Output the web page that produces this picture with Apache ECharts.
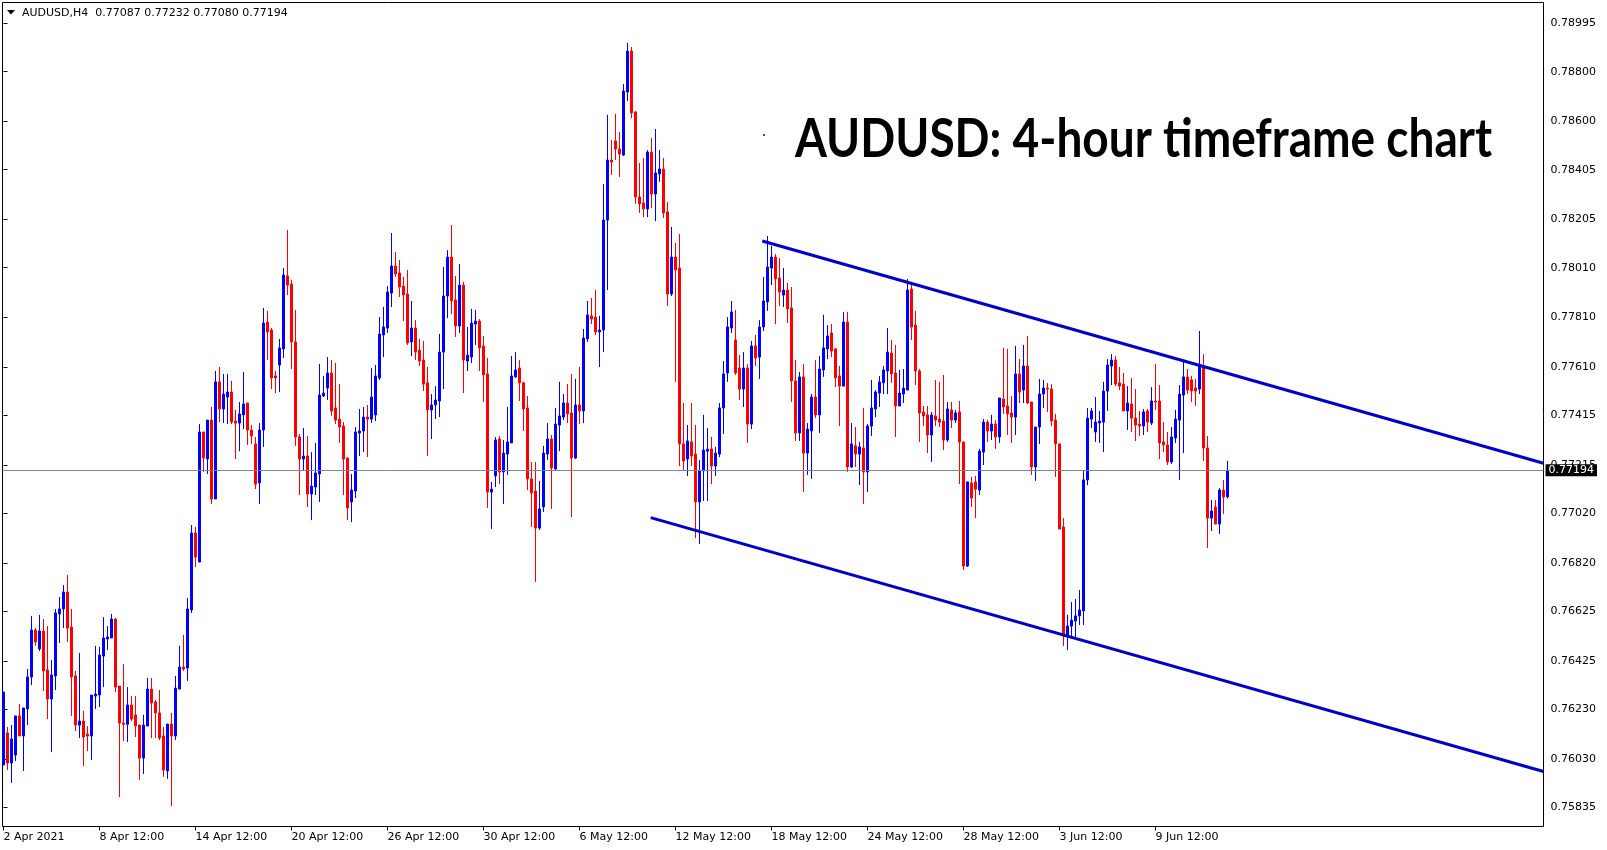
<!DOCTYPE html>
<html><head><meta charset="utf-8">
<script src="https://cdn.jsdelivr.net/npm/echarts@6/dist/echarts.min.js"></script>
<style>html,body{margin:0;padding:0;background:#fff}#c{width:1607px;height:850px}</style>
</head><body><div id="c"></div>
<script>
// ---- data (AUDUSD H4, one entry per bar) ----
const barOpen = [
0.76006,0.76135,0.76014,0.76046,0.76204,0.76123,0.76232,0.76361,0.76550,0.76474,
0.76546,0.76389,0.76272,0.76365,0.76615,0.76635,0.76703,0.76562,0.76365,0.76167,
0.76183,0.76131,0.76123,0.76284,0.76288,0.76445,0.76514,0.76518,0.76594,0.76324,
0.76175,0.76170,0.76248,0.76208,0.76167,0.76034,0.76163,0.76312,0.76260,0.76216,
0.76123,0.75982,0.76171,0.76123,0.76312,0.76401,0.76397,0.76631,0.76941,0.76824,
0.77348,0.77239,0.77396,0.77078,0.77550,0.77441,0.77489,0.77509,0.77392,0.77384,
0.77417,0.77465,0.77356,0.77300,0.77143,0.77356,0.77791,0.77759,0.77574,0.77618,
0.77683,0.77977,0.77944,0.77711,0.77328,0.77239,0.77251,0.77098,0.77126,0.77179,
0.77493,0.77525,0.77586,0.77445,0.77400,0.77372,0.77243,0.77066,0.77110,0.77344,
0.77352,0.77408,0.77400,0.77417,0.77566,0.77739,0.77767,0.77908,0.78017,0.77989,
0.77936,0.77904,0.77711,0.77767,0.77678,0.77638,0.77546,0.77437,0.77457,0.77473,
0.77670,0.77896,0.78053,0.77880,0.77775,0.77940,0.77634,0.77650,0.77783,0.77795,
0.77695,0.77582,0.77106,0.77171,0.77320,0.77187,0.77259,0.77304,0.77570,0.77606,
0.77546,0.77445,0.77159,0.77110,0.76961,0.77046,0.77259,0.77320,0.77199,0.77376,
0.77408,0.77465,0.77425,0.77243,0.77457,0.77433,0.77723,0.77816,0.77811,0.77751,
0.77759,0.78202,0.78444,0.78521,0.78489,0.78464,0.78718,0.78883,0.78638,0.78295,
0.78271,0.78247,0.78476,0.78307,0.78388,0.78408,0.78235,0.77904,0.78053,0.78009,
0.77300,0.77239,0.77308,0.77259,0.77066,0.77191,0.77271,0.77280,0.77211,0.77259,
0.77445,0.77586,0.77767,0.77719,0.77606,0.77521,0.77606,0.77380,0.77695,0.77650,
0.77771,0.77872,0.78009,0.78053,0.77969,0.77900,0.77920,0.77848,0.77554,0.77344,
0.77570,0.77263,0.77352,0.77489,0.77417,0.77598,0.77683,0.77747,0.77683,0.77574,
0.77533,0.77791,0.77207,0.77292,0.77259,0.77284,0.77187,0.77372,0.77441,0.77505,
0.77546,0.77594,0.77666,0.77586,0.77453,0.77501,0.77517,0.77924,0.77779,0.77594,
0.77429,0.77417,0.77336,0.77413,0.77400,0.77392,0.77316,0.77437,0.77396,0.77429,
0.77308,0.76808,0.77143,0.77147,0.77114,0.77267,0.77388,0.77352,0.77380,0.77328,
0.77481,0.77453,0.77425,0.77408,0.77582,0.77517,0.77614,0.77469,0.77207,0.77368,
0.77501,0.77525,0.77521,0.77396,0.77300,0.76965,0.76526,0.76566,0.76586,0.76607,
0.76627,0.77155,0.77400,0.77348,0.77384,0.77388,0.77513,0.77614,0.77638,0.77546,
0.77541,0.77433,0.77461,0.77404,0.77380,0.77372,0.77433,0.77384,0.77473,0.77473,
0.77308,0.77296,0.77227,0.77324,0.77396,0.77497,0.77570,0.77558,0.77525,0.77521,
0.77610,0.77284,0.77001,0.77046,0.76977,0.77114,0.77087];
const barHigh = [
0.76300,0.76159,0.76167,0.76204,0.76252,0.76236,0.76393,0.76607,0.76558,0.76611,
0.76594,0.76566,0.76429,0.76635,0.76683,0.76731,0.76772,0.76635,0.76385,0.76457,
0.76224,0.76163,0.76288,0.76486,0.76482,0.76602,0.76566,0.76615,0.76598,0.76324,
0.76413,0.76320,0.76284,0.76284,0.76167,0.76208,0.76357,0.76357,0.76268,0.76308,
0.76159,0.76171,0.76216,0.76365,0.76486,0.76530,0.76679,0.76973,0.76965,0.77380,
0.77348,0.77396,0.77449,0.77594,0.77610,0.77582,0.77582,0.77554,0.77437,0.77469,
0.77590,0.77465,0.77376,0.77328,0.77384,0.77848,0.77836,0.77767,0.77594,0.77723,
0.78009,0.78162,0.77961,0.77840,0.77340,0.77364,0.77332,0.77267,0.77304,0.77622,
0.77574,0.77650,0.77638,0.77626,0.77541,0.77388,0.77247,0.77179,0.77368,0.77441,
0.77449,0.77457,0.77606,0.77618,0.77811,0.77852,0.77936,0.78150,0.78073,0.78041,
0.77973,0.78001,0.77876,0.77799,0.77723,0.77715,0.77610,0.77501,0.77533,0.77743,
0.78013,0.78081,0.78182,0.77977,0.78025,0.77953,0.77771,0.77844,0.77840,0.77803,
0.77735,0.77646,0.77147,0.77328,0.77332,0.77316,0.77449,0.77654,0.77670,0.77638,
0.77550,0.77493,0.77227,0.77227,0.77151,0.77292,0.77384,0.77336,0.77445,0.77550,
0.77501,0.77541,0.77582,0.77562,0.77610,0.77763,0.77876,0.77888,0.77920,0.77816,
0.78347,0.78626,0.78525,0.78630,0.78557,0.78750,0.78916,0.78900,0.78642,0.78432,
0.78452,0.78484,0.78533,0.78569,0.78484,0.78452,0.78275,0.78174,0.78110,0.78146,
0.77465,0.77376,0.77465,0.77376,0.77235,0.77417,0.77364,0.77328,0.77288,0.77465,
0.77634,0.77811,0.77876,0.77840,0.77658,0.77670,0.77622,0.77715,0.77739,0.77799,
0.77973,0.78138,0.78098,0.78065,0.78049,0.78009,0.77949,0.77932,0.77638,0.77590,
0.77622,0.77384,0.77501,0.77638,0.77654,0.77820,0.77779,0.77783,0.77687,0.77614,
0.77832,0.77832,0.77384,0.77368,0.77308,0.77445,0.77380,0.77558,0.77517,0.77574,
0.77614,0.77767,0.77719,0.77699,0.77598,0.77602,0.77965,0.77953,0.77836,0.77602,
0.77453,0.77453,0.77429,0.77558,0.77550,0.77578,0.77469,0.77469,0.77437,0.77473,
0.77308,0.77147,0.77167,0.77171,0.77280,0.77400,0.77396,0.77417,0.77396,0.77485,
0.77687,0.77683,0.77493,0.77695,0.77642,0.77699,0.77735,0.77469,0.77368,0.77562,
0.77558,0.77546,0.77541,0.77421,0.77300,0.77001,0.76611,0.76663,0.76675,0.76711,
0.77191,0.77445,0.77445,0.77489,0.77433,0.77550,0.77642,0.77662,0.77654,0.77610,
0.77586,0.77533,0.77566,0.77521,0.77433,0.77441,0.77441,0.77529,0.77622,0.77537,
0.77388,0.77348,0.77368,0.77437,0.77537,0.77630,0.77602,0.77574,0.77562,0.77755,
0.77662,0.77332,0.77074,0.77074,0.77122,0.77155,0.77232];
const barLow = [
0.76006,0.75986,0.75934,0.76022,0.76123,0.75982,0.76167,0.76328,0.76486,0.76465,
0.76304,0.76191,0.76058,0.76308,0.76498,0.76558,0.76502,0.76204,0.76143,0.76115,
0.76002,0.76062,0.76026,0.76232,0.76240,0.76320,0.76469,0.76518,0.76300,0.75877,
0.76103,0.76099,0.76183,0.76119,0.75946,0.75970,0.76163,0.76115,0.76115,0.76107,
0.75958,0.75950,0.75841,0.76107,0.76312,0.76385,0.76345,0.76619,0.76804,0.76824,
0.77187,0.77179,0.77058,0.77078,0.77388,0.77384,0.77380,0.77380,0.77239,0.77271,
0.77360,0.77296,0.77300,0.77118,0.77058,0.77288,0.77638,0.77521,0.77505,0.77509,
0.77646,0.77900,0.77602,0.77292,0.77094,0.77195,0.77046,0.76993,0.77094,0.77066,
0.77489,0.77477,0.77413,0.77380,0.77304,0.77094,0.76993,0.76985,0.77082,0.77251,
0.77267,0.77247,0.77384,0.77392,0.77558,0.77650,0.77747,0.77852,0.77973,0.77892,
0.77795,0.77699,0.77654,0.77638,0.77614,0.77513,0.77251,0.77320,0.77400,0.77408,
0.77521,0.77807,0.77824,0.77731,0.77747,0.77505,0.77594,0.77626,0.77699,0.77594,
0.77469,0.77042,0.76957,0.77126,0.77138,0.77058,0.77175,0.77304,0.77566,0.77473,
0.77352,0.77114,0.76965,0.76744,0.76953,0.77026,0.77235,0.77038,0.77191,0.77271,
0.77396,0.77384,0.77005,0.77239,0.77380,0.77384,0.77711,0.77783,0.77739,0.77610,
0.77670,0.77920,0.78384,0.78444,0.78376,0.78460,0.78682,0.78613,0.78267,0.78231,
0.78214,0.78214,0.78251,0.78198,0.78356,0.78210,0.77856,0.77896,0.77550,0.77211,
0.77191,0.77171,0.77211,0.76921,0.76897,0.77070,0.77070,0.77138,0.77171,0.77247,
0.77340,0.77550,0.77747,0.77578,0.77477,0.77449,0.77304,0.77360,0.77614,0.77562,
0.77755,0.77836,0.77940,0.77783,0.77856,0.77852,0.77787,0.77469,0.77312,0.77312,
0.77106,0.77175,0.77159,0.77404,0.77344,0.77570,0.77642,0.77650,0.77529,0.77372,
0.77533,0.77187,0.77203,0.77207,0.77134,0.77058,0.77106,0.77332,0.77408,0.77449,
0.77501,0.77501,0.77546,0.77328,0.77453,0.77465,0.77517,0.77719,0.77537,0.77308,
0.77372,0.77263,0.77227,0.77372,0.77368,0.77275,0.77308,0.77364,0.77384,0.77138,
0.76792,0.76804,0.77046,0.77001,0.77094,0.77215,0.77308,0.77316,0.77280,0.77304,
0.77421,0.77336,0.77304,0.77336,0.77465,0.77465,0.77461,0.77175,0.77151,0.77300,
0.77445,0.77429,0.77372,0.77167,0.76957,0.76486,0.76469,0.76526,0.76522,0.76570,
0.76570,0.77134,0.77364,0.77308,0.77304,0.77267,0.77433,0.77537,0.77533,0.77517,
0.77433,0.77356,0.77348,0.77312,0.77332,0.77336,0.77348,0.77376,0.77437,0.77239,
0.77267,0.77215,0.77219,0.77304,0.77155,0.77263,0.77501,0.77469,0.77453,0.77501,
0.77231,0.76881,0.76949,0.76977,0.76937,0.77018,0.77080];
const barClose = [
0.76300,0.76014,0.76111,0.76204,0.76123,0.76236,0.76361,0.76550,0.76502,0.76546,
0.76385,0.76272,0.76369,0.76619,0.76635,0.76703,0.76558,0.76361,0.76167,0.76183,
0.76119,0.76123,0.76288,0.76292,0.76449,0.76518,0.76522,0.76594,0.76320,0.76175,
0.76170,0.76248,0.76191,0.76163,0.76034,0.76167,0.76312,0.76256,0.76216,0.76115,
0.75986,0.76171,0.76123,0.76316,0.76401,0.76393,0.76635,0.76941,0.76844,0.77348,
0.77243,0.77396,0.77078,0.77550,0.77441,0.77501,0.77509,0.77388,0.77384,0.77421,
0.77461,0.77356,0.77332,0.77138,0.77356,0.77787,0.77751,0.77566,0.77566,0.77687,
0.77981,0.77940,0.77711,0.77328,0.77239,0.77251,0.77098,0.77130,0.77183,0.77497,
0.77505,0.77586,0.77433,0.77396,0.77368,0.77239,0.77042,0.77114,0.77348,0.77352,
0.77408,0.77400,0.77489,0.77574,0.77743,0.77771,0.77912,0.78017,0.77985,0.77932,
0.77900,0.77707,0.77767,0.77670,0.77634,0.77541,0.77437,0.77457,0.77477,0.77670,
0.77896,0.78053,0.77876,0.77775,0.77940,0.77638,0.77658,0.77787,0.77795,0.77687,
0.77578,0.77106,0.77118,0.77316,0.77187,0.77263,0.77308,0.77574,0.77598,0.77546,
0.77441,0.77159,0.77102,0.76961,0.77038,0.77263,0.77320,0.77203,0.77380,0.77413,
0.77465,0.77421,0.77243,0.77457,0.77433,0.77727,0.77820,0.77803,0.77751,0.77759,
0.78202,0.78444,0.78436,0.78489,0.78468,0.78722,0.78883,0.78634,0.78295,0.78267,
0.78247,0.78476,0.78307,0.78392,0.78408,0.78231,0.77904,0.78053,0.78001,0.77300,
0.77231,0.77312,0.77251,0.77066,0.77191,0.77275,0.77279,0.77211,0.77263,0.77445,
0.77582,0.77771,0.77832,0.77586,0.77521,0.77606,0.77380,0.77695,0.77646,0.77771,
0.77876,0.78013,0.78053,0.77965,0.77912,0.77920,0.77844,0.77554,0.77344,0.77570,
0.77263,0.77360,0.77489,0.77417,0.77602,0.77687,0.77735,0.77674,0.77566,0.77533,
0.77791,0.77207,0.77300,0.77259,0.77288,0.77187,0.77372,0.77445,0.77509,0.77550,
0.77598,0.77670,0.77582,0.77453,0.77505,0.77525,0.77920,0.77771,0.77594,0.77425,
0.77413,0.77336,0.77417,0.77396,0.77388,0.77316,0.77441,0.77396,0.77425,0.77308,
0.76808,0.77147,0.77082,0.77118,0.77271,0.77388,0.77352,0.77380,0.77328,0.77485,
0.77449,0.77421,0.77408,0.77582,0.77509,0.77614,0.77465,0.77207,0.77368,0.77501,
0.77525,0.77521,0.77392,0.77300,0.76957,0.76530,0.76566,0.76590,0.76607,0.76631,
0.77155,0.77404,0.77433,0.77388,0.77392,0.77513,0.77618,0.77638,0.77541,0.77533,
0.77433,0.77465,0.77404,0.77376,0.77372,0.77429,0.77388,0.77473,0.77469,0.77304,
0.77296,0.77227,0.77328,0.77400,0.77501,0.77570,0.77517,0.77513,0.77513,0.77614,
0.77284,0.77001,0.77030,0.76977,0.77114,0.77086,0.77194];

// time-axis labels (every 24 bars)
const xTickBars = [0,24,48,72,96,120,144,168,192,216,240,264,288];
const xTickLabels = ['2 Apr 2021','8 Apr 12:00','14 Apr 12:00','20 Apr 12:00','26 Apr 12:00',
  '30 Apr 12:00','6 May 12:00','12 May 12:00','18 May 12:00','24 May 12:00','28 May 12:00',
  '3 Jun 12:00','9 Jun 12:00'];
// price-axis labels
const yTickValues = [0.75835,0.76030,0.76230,0.76425,0.76625,0.76820,0.77020,0.77215,0.77415,
  0.77610,0.77810,0.78010,0.78205,0.78405,0.78600,0.78800,0.78995];
const lastPrice = 0.77194;
// channel trend lines: [barIndex, price]
const upperChannel = [[189.7, 0.78118], [385.0, 0.77222]];
const lowerChannel = [[161.8, 0.77003], [385.0, 0.75980]];
const symbolName = 'AUDUSD,H4';
const titleText = 'AUDUSD: 4-hour timeframe chart';

// ---- chart ----
const n = barOpen.length;
const candles = barOpen.map((o, i) => [i, o, barClose[i], barLow[i], barHigh[i]]);
const FONT = 'DejaVu Sans';
const BLUE = '#0000FF', RED = '#FF0000', LINE_BLUE = '#0000CD';

const ctx = document.createElement('canvas').getContext('2d');
ctx.font = '700 53px Lato';
const titleScale = 697 / ctx.measureText(titleText).width;

const header = symbolName + '  ' + [barOpen[n-1], barHigh[n-1], barLow[n-1], barClose[n-1]].map(v => v.toFixed(5)).join(' ');

const chart = echarts.init(document.getElementById('c'), null, {renderer: 'canvas'});
chart.setOption({
  animation: false,
  backgroundColor: '#fff',
  grid: {left: 2.5, right: 63.5, top: 2.5, bottom: 23.5, show: true, borderColor: '#000', borderWidth: 1, backgroundColor: 'transparent'},
  xAxis: {
    type: 'value', min: -0.25, max: 385.0,
    axisLine: {show: false}, splitLine: {show: false},
    axisTick: {show: true, customValues: xTickBars, length: 4, lineStyle: {color: '#000', width: 1}},
    axisLabel: {show: true, customValues: xTickBars, align: 'left', margin: 5, color: '#000', fontFamily: FONT, fontSize: 11,
      formatter: v => xTickLabels[xTickBars.indexOf(Math.round(v))] || ''}
  },
  yAxis: {
    type: 'value', position: 'right', min: 0.757582, max: 0.790789,
    axisLine: {show: false}, splitLine: {show: false},
    axisTick: {show: true, customValues: yTickValues, length: 4, lineStyle: {color: '#000', width: 1}},
    axisLabel: {show: true, customValues: yTickValues, margin: 7, color: '#000', fontFamily: FONT, fontSize: 11,
      formatter: v => v.toFixed(5)}
  },
  series: [{
    type: 'candlestick',
    data: candles,
    encode: {x: 0, y: [1, 2, 3, 4]},
    barWidth: 2,
    clip: true,
    itemStyle: {color: BLUE, color0: RED, borderColor: BLUE, borderColor0: RED, borderWidth: 1},
    markLine: {
      silent: true, symbol: ['none', 'none'], animation: false, precision: 5,
      data: [
        [{coord: upperChannel[0], lineStyle: {color: LINE_BLUE, width: 3, type: 'solid'}, label: {show: false}},
         {coord: upperChannel[1], lineStyle: {color: LINE_BLUE, width: 3, type: 'solid'}, label: {show: false}}],
        [{coord: lowerChannel[0], lineStyle: {color: LINE_BLUE, width: 3, type: 'solid'}, label: {show: false}},
         {coord: lowerChannel[1], lineStyle: {color: LINE_BLUE, width: 3, type: 'solid'}, label: {show: false}}],
        {yAxis: lastPrice, lineStyle: {color: '#778899', width: 1, type: 'solid'},
         label: {show: true, position: 'end', distance: 2, formatter: () => lastPrice.toFixed(5),
           backgroundColor: '#000', color: '#fff', fontFamily: FONT, fontSize: 11, padding: [1, 3, 0, 3]}}
      ]
    }
  }],
  graphic: [
    {type: 'polygon', shape: {points: [[7, 10], [15, 10], [11, 14.5]]}, style: {fill: '#000'}},
    {type: 'text', x: 22, y: 13, style: {text: header, fill: '#000', font: '11px "DejaVu Sans"', textVerticalAlign: 'middle'}},
    {type: 'text', x: 795, y: 140, scaleX: titleScale, originX: 0, originY: 0,
     style: {text: titleText, fill: '#000', font: '700 53px Lato', textAlign: 'left', textVerticalAlign: 'middle'}},
    {type: 'rect', shape: {x: 763, y: 134, width: 2, height: 2}, style: {fill: '#555'}}
  ]
});
</script>
</body></html>
